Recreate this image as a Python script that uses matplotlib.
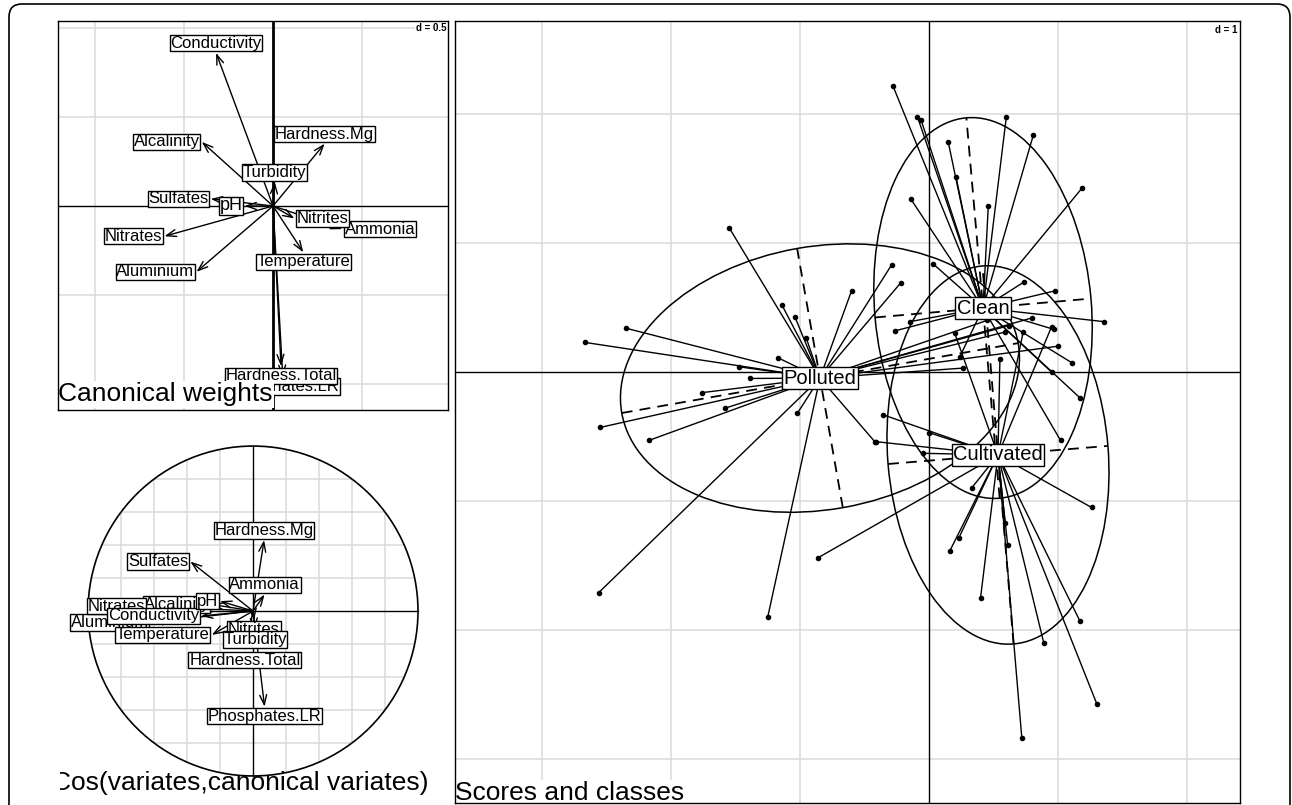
import numpy as np
import matplotlib
matplotlib.use("Agg")
import matplotlib.pyplot as plt
from matplotlib.patches import Ellipse, Circle, FancyBboxPatch

plt.rcParams['font.family'] = ['Liberation Sans', 'DejaVu Sans']

W, H = 1292, 805

# canonical weights (arrow tips), listed in drawing order
cw_names = ["Alcalinity", "Aluminium", "Ammonia", "Nitrates", "Nitrites", "Phosphates.LR",
            "Sulfates", "Conductivity", "Hardness.Mg", "Hardness.Total", "pH",
            "Temperature", "Turbidity"]
cw_x = [-0.40, -0.43, 0.39, -0.61, 0.12, 0.055, -0.35, -0.32, 0.29, 0.045, -0.16, 0.17, 0.01]
cw_y = [0.36, -0.37, -0.13, -0.17, -0.07, -0.96, 0.04, 0.86, 0.35, -0.90, 0.0, -0.26, 0.135]

# correlations between variables and canonical variates
cor_names = cw_names
cor_x = [-0.25, -0.62, 0.07, -0.64, 0.006, 0.07, -0.38, -0.315, 0.067, -0.05, -0.20, -0.25, 0.012]
cor_y = [0.04, -0.07, 0.10, 0.03, -0.055, -0.58, 0.30, -0.03, 0.43, -0.24, 0.06, -0.145, -0.115]

# class centres and 1.5 sd ellipses
classes = ["Polluted", "Clean", "Cultivated"]
class_x = [-0.845, 0.419, 0.535]
class_y = [-0.047, 0.496, -0.643]
ell_a = [1.56, 0.84, 0.855]
ell_b = [1.02, 1.48, 1.47]
ell_angle = [10.0, 5.0, 4.7]

# sample scores on the two discriminant axes
polluted_x = [-1.55, -2.35, -2.67, -1.14, -1.04, -0.95, -0.60, -1.17, -1.47, -1.39, -1.76,
              -1.58, -2.55, -2.17, -2.56, -1.25, -1.02, -0.29, -0.22, 0.59, 0.26, -0.42,
              0.45, 0.62, 0.80, 1.00]
polluted_y = [1.12, 0.34, 0.23, 0.52, 0.43, 0.26, 0.63, 0.11, 0.04, -0.05, -0.16,
              -0.28, -0.43, -0.53, -1.71, -1.90, -0.32, 0.83, 0.69, 0.31, 0.03, -0.54,
              0.40, 0.36, 0.42, 0.20]
clean_x = [-0.28, -0.09, -0.06, 0.15, 0.60, 0.81, 0.46, 0.21, 1.19, -0.14, 0.03, 0.74,
           0.98, 1.36, 0.97, -0.15, -0.26, 0.95, 1.11, 1.17, 0.24, 1.02]
clean_y = [2.22, 1.98, 1.95, 1.78, 1.98, 1.84, 1.29, 1.51, 1.43, 1.34, 0.84, 0.70,
           0.63, 0.39, 0.33, 0.39, 0.32, 0.00, 0.07, -0.20, 0.12, -0.53]
cultivated_x = [1.26, 0.61, 0.23, 0.16, 0.40, 1.17, 0.89, 1.30, 0.72, 0.33, 0.59, -0.41,
                0.00, -0.36, -0.05, -0.86, 0.73, 0.55, 0.20, 0.95]
cultivated_y = [-1.05, -1.34, -1.29, -1.39, -1.75, -1.93, -2.10, -2.57, -2.84, -0.90,
                -1.17, -0.54, -0.47, -0.33, -0.63, -1.44, 0.31, 0.10, 0.30, 0.35]
scores = [(polluted_x, polluted_y), (clean_x, clean_y), (cultivated_x, cultivated_y)]

GRID = '#dddddd'


def px_axes(fig, x0, y0, x1, y1):
    return fig.add_axes([x0 / W, 1 - y1 / H, (x1 - x0) / W, (y1 - y0) / H])


def box_label(ax, x, y, text, fs=12, z=5):
    # label sits just outside the tip, on the side the arrow points to
    if x > y and x > -y:
        ha, va, off = 'left', 'center', (1.5, 0)
    elif x > y:
        ha, va, off = 'center', 'top', (0, -1.5)
    elif x <= -y:
        ha, va, off = 'right', 'center', (-1.5, 0)
    else:
        ha, va, off = 'center', 'bottom', (0, 1.5)
    ax.annotate(text, (x, y), xytext=off, textcoords='offset points', ha=ha, va=va,
                fontsize=fs, zorder=z,
                bbox=dict(boxstyle='square,pad=0.04', fc='white', ec='black', lw=1.0))


def arrows(ax, xs, ys):
    for x, y in zip(xs, ys):
        ax.annotate('', xy=(x, y), xytext=(0, 0), zorder=3,
                    arrowprops=dict(arrowstyle='->,head_length=0.7,head_width=0.25',
                                    lw=1.0, color='black', shrinkA=0, shrinkB=0))


def corner_tag(ax, text):
    ax.text(0.997, 0.995, text, transform=ax.transAxes, ha='right', va='top',
            fontsize=7, fontweight='bold', zorder=8,
            bbox=dict(boxstyle='square,pad=0.1', fc='white', ec='none'))


def frame(ax):
    ax.set_xticks([])
    ax.set_yticks([])
    for s in ax.spines.values():
        s.set_linewidth(1.0)
        s.set_zorder(10)


fig = plt.figure(figsize=(W / 100, H / 100), dpi=100)

# rounded outer frame
fig.patches.append(FancyBboxPatch((9 / 100, -0.3), (1290 - 9) / 100, (805 - 4) / 100 + 0.3,
                                  boxstyle='round,pad=0,rounding_size=0.13',
                                  transform=fig.dpi_scale_trans, fill=False,
                                  ec='black', lw=1.2))

# ---- canonical weights ----
ax1 = px_axes(fig, 58, 21, 448, 410)
ax1.set_xlim(-1.208, 0.983)
ax1.set_ylim(-1.146, 1.039)
for v in [-1.0, -0.5, 0.5]:
    ax1.axvline(v, color=GRID, lw=1.2, zorder=0)
for v in [1.0, 0.5, -0.5, -1.0]:
    ax1.axhline(v, color=GRID, lw=1.2, zorder=0)
ax1.axvline(0, color='black', lw=2.0, zorder=1)
ax1.axhline(0, color='black', lw=1.0, zorder=1)
arrows(ax1, cw_x, cw_y)
for i, (n, x, y) in enumerate(zip(cw_names, cw_x, cw_y)):
    box_label(ax1, x, y, n, fs=13 if n == "pH" else 12, z=5 + i * 0.01)
ax1.text(0.0, 0.022, "Canonical weights", transform=ax1.transAxes, fontsize=19,
         ha='left', va='baseline', zorder=7,
         bbox=dict(boxstyle='square,pad=0.05', fc='white', ec='none'))
corner_tag(ax1, "d = 0.5")
frame(ax1)

# ---- correlation circle ----
ax2 = px_axes(fig, 60, 420, 450, 803)
ax2.set_xlim(-1.170, 1.194)
ax2.set_ylim(-1.164, 1.158)
ax2.axis('off')
circ = Circle((0, 0), 1, fill=False, ec='black', lw=1.2, zorder=2)
ax2.add_patch(circ)
clip = Circle((0, 0), 1, transform=ax2.transData)
for v in np.arange(-0.8, 0.81, 0.2):
    if abs(v) < 1e-9:
        continue
    l1, = ax2.plot([v, v], [-1, 1], color=GRID, lw=1.2, zorder=0)
    l2, = ax2.plot([-1, 1], [v, v], color=GRID, lw=1.2, zorder=0)
    l1.set_clip_path(clip)
    l2.set_clip_path(clip)
ax2.plot([-1, 1], [0, 0], color='black', lw=1.0, zorder=1)
ax2.plot([0, 0], [-1, 1], color='black', lw=1.0, zorder=1)
arrows(ax2, cor_x, cor_y)
for i, (n, x, y) in enumerate(zip(cor_names, cor_x, cor_y)):
    box_label(ax2, x, y, n, z=5 + i * 0.01)
ax2.text(-1.218, -1.085, "Cos(variates,canonical variates)", fontsize=19,
         ha='left', va='baseline', clip_on=True, zorder=7)

# ---- scores and classes ----
ax3 = px_axes(fig, 455, 21, 1240, 803)
ax3.set_xlim(-3.674, 2.411)
ax3.set_ylim(-3.341, 2.721)
for v in [-3, -2, -1, 1, 2]:
    ax3.axvline(v, color=GRID, lw=1.2, zorder=0)
for v in [2, 1, -1, -2, -3]:
    ax3.axhline(v, color=GRID, lw=1.2, zorder=0)
ax3.axvline(0, color='black', lw=1.0, zorder=1)
ax3.axhline(0, color='black', lw=1.0, zorder=1)

for (cx, cy), (xs, ys) in zip(zip(class_x, class_y), scores):
    for x, y in zip(xs, ys):
        ax3.plot([cx, x], [cy, y], color='black', lw=1.0, zorder=2)
    ax3.plot(xs, ys, 'o', color='black', ms=3, zorder=3)

for cx, cy, a, b, ang in zip(class_x, class_y, ell_a, ell_b, ell_angle):
    ax3.add_patch(Ellipse((cx, cy), 2 * a, 2 * b, angle=ang, fill=False,
                          ec='black', lw=1.1, zorder=3))
    t = np.deg2rad(ang)
    ux, uy = a * np.cos(t), a * np.sin(t)
    vx, vy = -b * np.sin(t), b * np.cos(t)
    ax3.plot([cx - ux, cx + ux], [cy - uy, cy + uy], color='black', lw=1.3,
             ls=(0, (6, 4)), zorder=3)
    ax3.plot([cx - vx, cx + vx], [cy - vy, cy + vy], color='black', lw=1.3,
             ls=(0, (6, 4)), zorder=3)

for n, cx, cy in zip(classes, class_x, class_y):
    ax3.text(cx, cy, n, ha='center', va='center', fontsize=14.5, zorder=6,
             bbox=dict(boxstyle='square,pad=0.06', fc='white', ec='black', lw=1.0))

ax3.text(0.0, 0.004, "Scores and classes", transform=ax3.transAxes, fontsize=19,
         ha='left', va='baseline', zorder=7,
         bbox=dict(boxstyle='square,pad=0.05', fc='white', ec='none'))
corner_tag(ax3, "d = 1")
frame(ax3)

fig.savefig("out.png", dpi=100)
